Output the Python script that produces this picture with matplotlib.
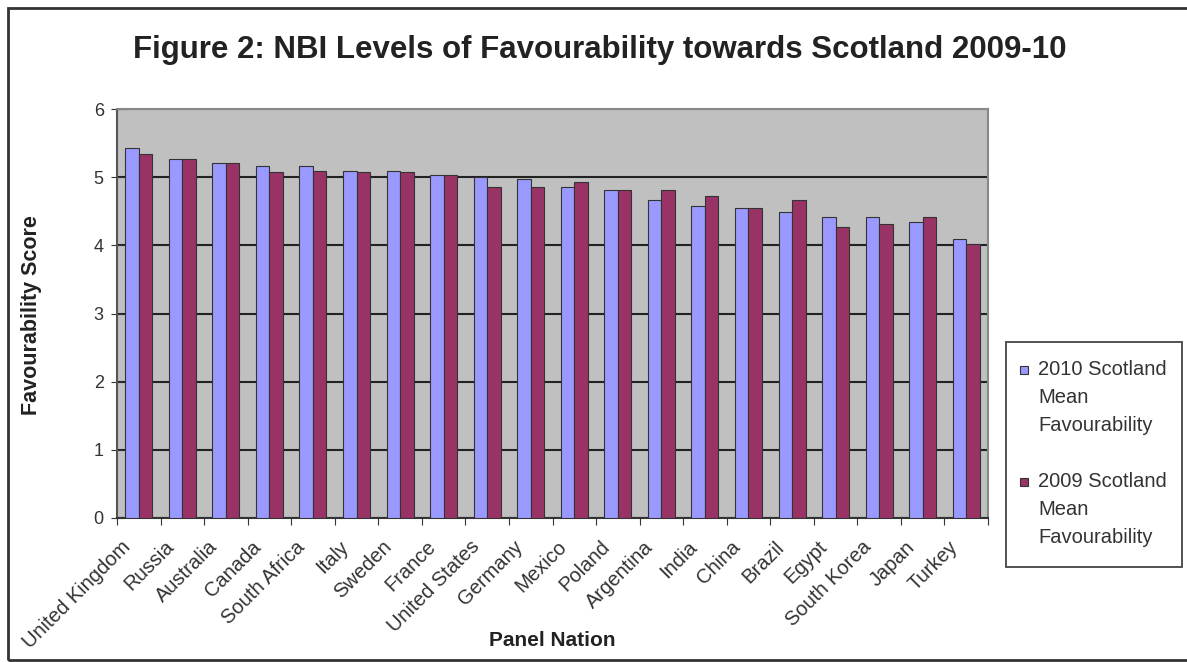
import numpy as np
import matplotlib.pyplot as plt
from matplotlib.patches import Rectangle
from matplotlib.transforms import ScaledTranslation

plt.rcParams['font.family'] = ['Liberation Sans', 'DejaVu Sans']

nations = ['United Kingdom', 'Russia', 'Australia', 'Canada', 'South Africa',
           'Italy', 'Sweden', 'France', 'United States', 'Germany', 'Mexico',
           'Poland', 'Argentina', 'India', 'China', 'Brazil', 'Egypt',
           'South Korea', 'Japan', 'Turkey']
score_2010 = [5.43, 5.27, 5.21, 5.16, 5.16, 5.09, 5.09, 5.03, 5.00, 4.97,
              4.86, 4.81, 4.66, 4.57, 4.55, 4.49, 4.41, 4.41, 4.34, 4.10]
score_2009 = [5.34, 5.27, 5.21, 5.07, 5.09, 5.07, 5.07, 5.03, 4.86, 4.86,
              4.93, 4.81, 4.81, 4.72, 4.55, 4.66, 4.27, 4.31, 4.41, 4.02]
series_names = ['2010 Scotland\nMean\nFavourability', '2009 Scotland\nMean\nFavourability']
colors = ['#9999FF', '#993366']

W, H = 1187, 662
fig = plt.figure(figsize=(W / 100, H / 100), dpi=100)
ax = fig.add_axes([117 / W, 1 - 518 / H, (988 - 117) / W, (518 - 109) / H])

x = np.arange(len(nations))
w = 0.31
ax.bar(x - w / 2, score_2010, w, color=colors[0], edgecolor='#333333', linewidth=0.8, zorder=3)
ax.bar(x + w / 2, score_2009, w, color=colors[1], edgecolor='#333333', linewidth=0.8, zorder=3)

ax.set_facecolor('#C0C0C0')
ax.set_xlim(-0.5, len(nations) - 0.5)
ax.set_ylim(0, 6)
ax.set_yticks(range(7))
ax.yaxis.grid(True, color='#222222', linewidth=1.5, zorder=1)
ax.set_axisbelow(True)

# category boundary ticks, labels at the centres
ax.set_xticks(np.arange(-0.5, len(nations), 1.0))
ax.set_xticklabels([])
ax.set_xticks(x, minor=True)
ax.set_xticklabels(nations, minor=True, rotation=45, ha='right', va='center',
                   rotation_mode='anchor', fontsize=14.5, color='#333333')
ax.tick_params(axis='x', which='minor', length=0, pad=0)
ax.tick_params(axis='x', which='major', length=5, color='#333333')
ax.tick_params(axis='y', direction='inout', length=9, color='#333333',
               labelsize=13, labelcolor='#333333', pad=5)
shift = ScaledTranslation(-0.11, -0.26, fig.dpi_scale_trans)
for lbl in ax.get_xticklabels(minor=True):
    lbl.set_transform(lbl.get_transform() + shift)

for side in ['top', 'right']:
    ax.spines[side].set_color('#888888')
    ax.spines[side].set_linewidth(1.5)
ax.spines['left'].set_color('#555555')
ax.spines['left'].set_linewidth(1.5)
ax.spines['bottom'].set_color('#333333')
ax.spines['bottom'].set_linewidth(1.5)

fig.text(600 / W, 1 - 50 / H, 'Figure 2: NBI Levels of Favourability towards Scotland 2009-10',
         ha='center', va='center', fontsize=22.5, fontweight='bold', color='#222222')
fig.text(32 / W, 1 - 315 / H, 'Favourability Score', rotation=90, ha='center', va='center',
         fontsize=15.5, fontweight='bold', color='#222222')
fig.text(552 / W, 1 - 640 / H, 'Panel Nation', ha='center', va='center',
         fontsize=15, fontweight='bold', color='#222222')

# legend box drawn by hand, as in the original spreadsheet chart
fig.patches.append(Rectangle((1006 / W, 1 - 567 / H), 176 / W, 225 / H, transform=fig.transFigure,
                             facecolor='white', edgecolor='#444444', linewidth=1.3))
for name, col, y0 in zip(series_names, colors, [370, 482]):
    fig.patches.append(Rectangle((1020 / W, 1 - (y0 + 4) / H), 8 / W, 8 / H,
                                 transform=fig.transFigure, facecolor=col,
                                 edgecolor='#333333', linewidth=0.8))
    fig.text(1038 / W, 1 - (y0 - 10) / H, name, ha='left', va='top', fontsize=14.5,
             color='#333333', linespacing=1.6)

# outer frame of the picture
fig.patches.append(Rectangle((8 / W, 2 / H), 1.0, 1 - 10 / H, transform=fig.transFigure,
                             fill=False, edgecolor='#333333', linewidth=2))

fig.savefig('out.png', dpi=100, facecolor='white')
